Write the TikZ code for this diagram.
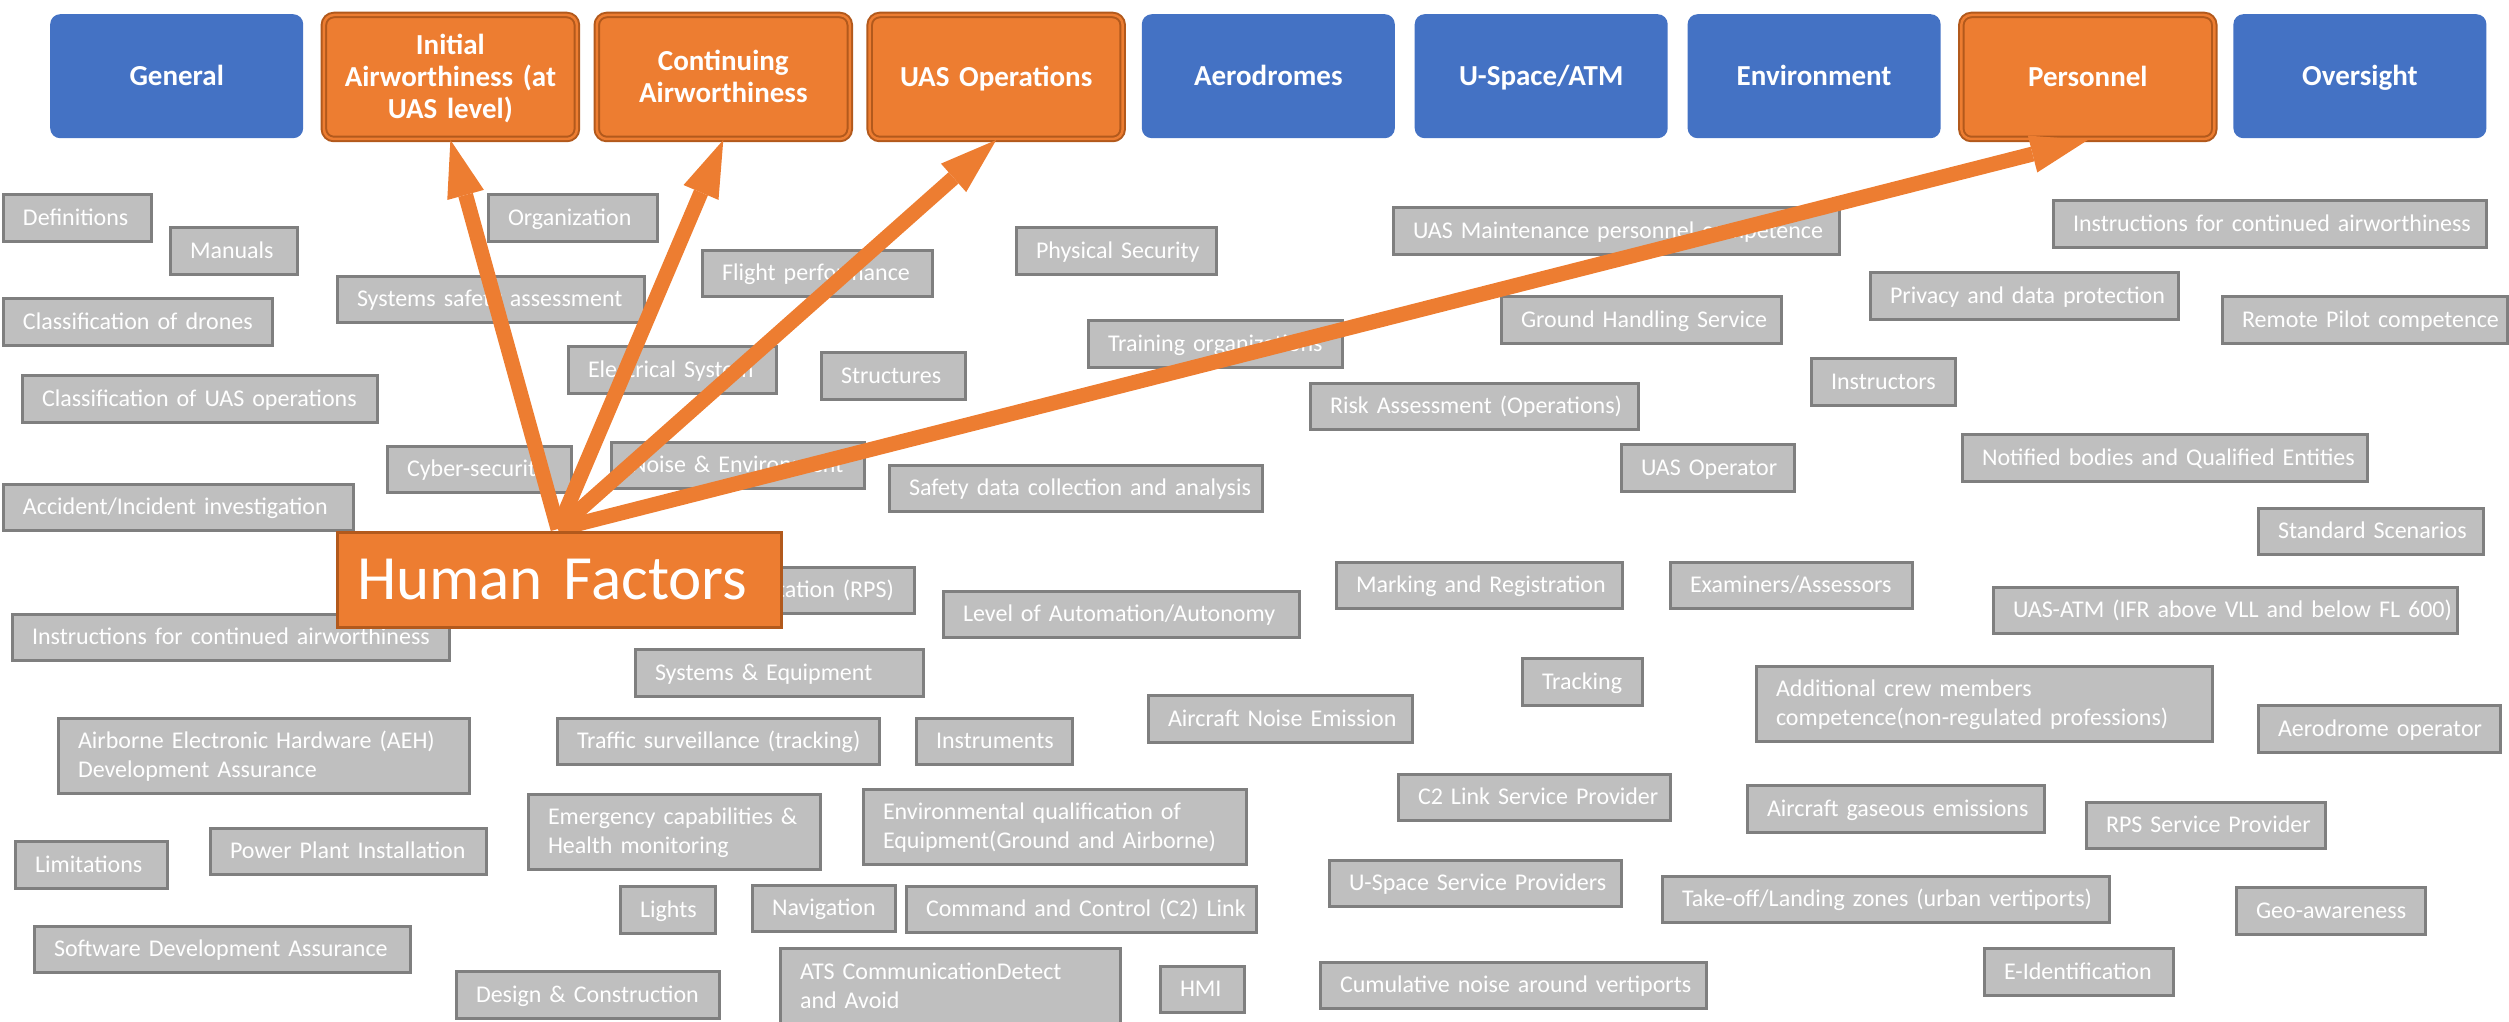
\documentclass[tikz,border=0pt]{standalone}
\usepackage{fontspec}
\setmainfont{Carlito}
\usetikzlibrary{arrows.meta}

\definecolor{hfOrange}{HTML}{ED7D31}
\definecolor{hfEdge}{HTML}{B2591C}
\definecolor{catBlue}{HTML}{4472C4}
\definecolor{itemFill}{HTML}{BFBFBF}
\definecolor{itemEdge}{HTML}{7F7F7F}

% grey topic box: name, left, top, width, height, text (outer extents in px)
\newcommand\itm[6]{%
  \pgfmathsetmacro\itw{#4-43}%
  \node[item, minimum width={#4-3}, minimum height={#5-3}, text width=\itw pt]
    (#1) at ({#2+1.5},{#3+1.5}) {\mbox{#6}};}
% two-line grey topic box
\newcommand\itmii[7]{%
  \pgfmathsetmacro\itw{#4-43}%
  \node[item, text depth=29pt, minimum width={#4-3}, minimum height={#5-3}, text width=\itw pt]
    (#1) at ({#2+1.5},{#3+1.5}) {\mbox{#6}\\\mbox{#7}};}

\begin{document}
\begin{tikzpicture}[x=1pt,y=-1pt,
  cat/.style={rounded corners=10pt, fill=catBlue, text=white,
    font=\bfseries\fontsize{29}{32}\selectfont, align=center,
    text width=240pt,
    minimum width=253pt, minimum height=124pt, inner sep=0pt,
    anchor=north west, text height=18.7pt, text depth=0pt},
  catsel/.style={cat, fill=hfOrange, draw=hfEdge, double=hfOrange,
    double distance=2.5pt, line width=2pt},
  item/.style={draw=itemEdge, line width=3pt, fill=itemFill, text=white,
    font=\fontsize{24}{29}\selectfont, align=left, inner xsep=20pt,
    inner ysep=0pt, anchor=north west, text height=15.5pt, text depth=0pt},
  link/.style={draw=hfOrange, line width=15pt,
    -{Triangle[length=57pt,width=38pt,line width=0pt]}}
]
\useasboundingbox (0,0) rectangle (2509,1022);

% category row
\node[cat]     (gen)  at (50,14)     {General};
\node[catsel, text depth=64pt] (ia) at (322.9,14) {Initial\\Airworthiness (at\\UAS level)};
\node[catsel, text depth=32pt] (ca) at (595.8,14) {Continuing\\Airworthiness};
\node[catsel]  (ops)  at (868.7,14)  {UAS Operations};
\node[cat]     (aer)  at (1141.6,14) {Aerodromes};
\node[cat]     (usp)  at (1414.5,14) {U-Space/ATM};
\node[cat]     (env)  at (1687.4,14) {Environment};
\node[catsel]  (pers) at (1960.3,14) {Personnel};
\node[cat]     (ovs)  at (2233.2,14) {Oversight};

% topic boxes
\itm{defs}{0}{191}{151}{50}{Definitions}
\itm{manuals}{167}{224}{130}{50}{Manuals}
\itm{org}{485}{191}{172}{50}{Organization}
\itm{ssa}{334}{273}{310}{49}{Systems safety assessment}
\itm{clsdr}{0}{295}{272}{50}{Classification of drones}
\itm{flight}{699}{247}{233}{49}{Flight performance}
\itm{elec}{565}{343}{211}{50}{Electrical System}
\itm{struct}{818}{349}{147}{50}{Structures}
\itm{clsops}{19}{372}{358}{50}{Classification of UAS operations}
\itm{cyber}{384}{443}{187}{49}{Cyber-security}
\itm{noise}{608}{439}{256}{49}{Noise \& Environment}
\itm{accid}{0}{481}{353}{49}{Accident/Incident investigation}
\itm{physsec}{1013}{224}{203}{50}{Physical Security}
\itm{trainorg}{1085}{317}{257}{50}{Training organizations}
\itm{maintcomp}{1390}{204}{449}{50}{UAS Maintenance personnel competence}
\itm{ground}{1498}{293}{283}{50}{Ground Handling Service}
\itm{risk}{1307}{380}{331}{49}{Risk Assessment (Operations)}
\itm{safedata}{886}{462}{376}{49}{Safety data collection and analysis}
\itm{uasop}{1618}{441}{176}{50}{UAS Operator}
\itm{icaR}{2050}{197}{436}{50}{Instructions for continued airworthiness}
\itm{privacy}{1867}{269}{311}{50}{Privacy and data protection}
\itm{rpcomp}{2219}{293}{288}{50}{Remote Pilot competence}
\itm{instr}{1808}{355}{147}{50}{Instructors}
\itm{notified}{1959}{431}{408}{50}{Notified bodies and Qualified Entities}
\itm{stdsc}{2255}{505}{228}{49}{Standard Scenarios}
\itm{icaL}{9}{611}{440}{49}{Instructions for continued airworthiness}
\itm{rps}{607}{564}{307}{49}{Remote Pilot Station (RPS)}
\itm{syseq}{632}{646}{291}{50}{Systems \& Equipment}
\itmii{aeh}{55}{715}{414}{78}{Airborne Electronic Hardware (AEH)}{Development Assurance}
\itm{limit}{12}{838}{155}{50}{Limitations}
\itm{power}{207}{825}{279}{49}{Power Plant Installation}
\itm{swda}{31}{923}{379}{49}{Software Development Assurance}
\itm{design}{453}{968}{266}{50}{Design \& Construction}
\itm{traffic}{554}{715}{325}{49}{Traffic surveillance (tracking)}
\itm{instru}{913}{715}{159}{49}{Instruments}
\itmii{emerg}{525}{791}{295}{78}{Emergency capabilities \&}{Health monitoring}
\itmii{envq}{860}{786}{386}{78}{Environmental qualification of}{Equipment(Ground and Airborne)}
\itm{lights}{617}{883}{98}{50}{Lights}
\itm{nav}{749}{882}{146}{49}{Navigation}
\itm{c2}{903}{883}{353}{49}{Command and Control (C2) Link}
\itmii{ats}{777}{945}{343}{79}{ATS CommunicationDetect}{and Avoid}
\itm{hmi}{1157}{963}{87}{49}{HMI}
\itm{autom}{940}{588}{359}{49}{Level of Automation/Autonomy}
\itm{marking}{1333}{559}{289}{49}{Marking and Registration}
\itm{exam}{1667}{559}{245}{49}{Examiners/Assessors}
\itm{tracking}{1519}{655}{123}{50}{Tracking}
\itm{acnoise}{1145}{692}{267}{50}{Aircraft Noise Emission}
\itm{c2sp}{1395}{771}{275}{49}{C2 Link Service Provider}
\itm{ussp}{1326}{857}{295}{49}{U-Space Service Providers}
\itm{cumul}{1317}{959}{389}{49}{Cumulative noise around vertiports}
\itm{uasatm}{1990}{584}{467}{49}{UAS-ATM (IFR above VLL and below FL 600)}
\itmii{addcrew}{1753}{663}{459}{78}{Additional crew members}{competence(non-regulated professions)}
\itm{aeroop}{2255}{702}{245}{50}{Aerodrome operator}
\itm{gaseous}{1744}{782}{300}{50}{Aircraft gaseous emissions}
\itm{rpssp}{2083}{799}{242}{49}{RPS Service Provider}
\itm{takeoff}{1659}{873}{450}{49}{Take-off/Landing zones (urban vertiports)}
\itm{geo}{2233}{884}{192}{50}{Geo-awareness}
\itm{eid}{1981}{945}{192}{50}{E-Identification}

% Human Factors and its links to the categories
\coordinate (hfTop) at (558,529);
\draw[link] (hfTop) -- (ia.south);
\draw[link] (hfTop) -- (ca.south);
\draw[link] (hfTop) -- (ops.south);
\draw[link] (hfTop) -- (pers.south);

\node[draw=hfEdge, line width=3pt, fill=hfOrange, text=white,
  font=\fontsize{63}{70}\selectfont, anchor=north west,
  minimum width=444pt, minimum height=95pt, inner xsep=20pt, inner ysep=0pt,
  text width=404pt, align=left, text height=40.6pt, text depth=0pt]
  (hf) at (335.5,530.5) {Human Factors};
\end{tikzpicture}
\end{document}
